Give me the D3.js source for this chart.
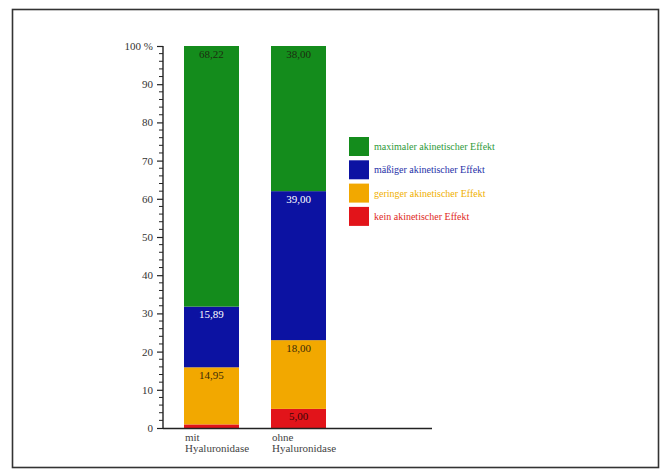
<!DOCTYPE html>
<html>
<head>
<meta charset="utf-8">
<script src="https://cdn.jsdelivr.net/npm/d3@7/dist/d3.min.js"></script>
<style>
  html, body { margin: 0; padding: 0; background: #fff; }
  svg { display: block; }
  svg text { font-family: "Liberation Serif", "Times New Roman", "DejaVu Serif", serif; }
</style>
</head>
<body>
<svg id="chart" width="665" height="471"></svg>
<script>
// Groups on the x axis (two lines each)
const groups = ["mit\nHyaluronidase", "ohne\nHyaluronidase"];
// Stack order from bottom to top
const effects = ["kein", "gering", "mäßig", "maximal"];
const legendLabels = [
  "maximaler akinetischer Effekt",
  "mäßiger akinetischer Effekt",
  "geringer akinetischer Effekt",
  "kein akinetischer Effekt"
];
// Percentages per group, in the stack order above
const keinValues    = [0.94, 5.00];
const geringValues  = [14.95, 18.00];
const maessigValues = [15.89, 39.00];
const maximalValues = [68.22, 38.00];
// Which segments carry a printed value
const showLabel = [[false, true, true, true], [true, true, true, true]];
const yTicks = [0, 10, 20, 30, 40, 50, 60, 70, 80, 90, 100];

const colors = { kein: "#e2141a", gering: "#f2a800", "mäßig": "#0c12a2", maximal: "#148c1c" };
const labelColors = { kein: "#3a0606", gering: "#3a2a08", "mäßig": "#ffffff", maximal: "#1c2c10" };
const legendTextColors = ["#2f9a3a", "#2630a8", "#f0b000", "#e0281c"];
const legendKeys = ["maximal", "mäßig", "gering", "kein"];

const svg = d3.select("#chart");
const serif = "\"Liberation Serif\", \"Times New Roman\", \"DejaVu Serif\", serif";

// Outer frame
svg.append("rect")
  .attr("x", 12.5).attr("y", 9.5)
  .attr("width", 646).attr("height", 458)
  .attr("fill", "none").attr("stroke", "#333").attr("stroke-width", 1.6);

const y = d3.scaleLinear().domain([0, 100]).range([428, 46]);
const x = d3.scaleBand().domain(groups).range([163, 347]).paddingInner(0.368).paddingOuter(0.2414);

// Stacked data
const rows = groups.map((g, i) => ({
  group: g,
  kein: keinValues[i], gering: geringValues[i], "mäßig": maessigValues[i], maximal: maximalValues[i]
}));
const stack = d3.stack().keys(effects)(rows);

const fmt = v => d3.format(".2f")(v).replace(".", ",");

stack.forEach((layer, li) => {
  const key = layer.key;
  const g = svg.append("g");
  g.selectAll("rect").data(layer).join("rect")
    .attr("x", d => x(d.data.group))
    .attr("y", d => y(d[1]))
    .attr("width", x.bandwidth())
    .attr("height", d => y(d[0]) - y(d[1]))
    .attr("fill", colors[key]);
  g.selectAll("text").data(layer.filter((d, gi) => showLabel[gi][li])).join("text")
    .attr("x", d => x(d.data.group) + x.bandwidth() / 2)
    .attr("y", d => y(d[1]) + 11.5)
    .attr("text-anchor", "middle")
    .style("font-family", serif).attr("font-size", 11)
    .attr("fill", labelColors[key])
    .text(d => fmt(d[1] - d[0]));
});

// Y axis
const axisG = svg.append("g").attr("transform", "translate(163,0)");
axisG.call(d3.axisLeft(y).tickValues(yTicks).tickSize(6).tickFormat(d => d === 100 ? "100 %" : d))
  .attr("font-family", null)
  .call(g => g.select(".domain").attr("stroke", "#222").attr("stroke-width", 1.4).attr("d", `M0,${y(0)}V${y(100)}`))
  .call(g => g.selectAll(".tick line").attr("stroke", "#222").attr("stroke-width", 1.2))
  .call(g => g.selectAll(".tick text").style("font-family", serif).attr("font-size", 11).attr("fill", "#333").attr("x", -10));
// Minor ticks every 2 %
axisG.selectAll("line.minor").data(d3.range(0, 100, 2).filter(v => v % 10 !== 0)).join("line")
  .attr("class", "minor")
  .attr("x1", -4).attr("x2", 0)
  .attr("y1", d => y(d)).attr("y2", d => y(d))
  .attr("stroke", "#222").attr("stroke-width", 1);

// Baseline
svg.append("line")
  .attr("x1", 163).attr("x2", 432)
  .attr("y1", y(0) + 0.5).attr("y2", y(0) + 0.5)
  .attr("stroke", "#222").attr("stroke-width", 1.6);

// Group labels
groups.forEach(gname => {
  const t = svg.append("text")
    .style("font-family", serif).attr("font-size", 11).attr("fill", "#444");
  gname.split("\n").forEach((line, i) => {
    t.append("tspan").attr("x", x(gname) + 1).attr("y", 441 + i * 11).text(line);
  });
});

// Legend
const legend = svg.append("g").attr("transform", "translate(349,137)");
legendKeys.forEach((k, i) => {
  legend.append("rect")
    .attr("x", 0).attr("y", i * 23.3)
    .attr("width", 20).attr("height", 19)
    .attr("fill", colors[k]);
  legend.append("text")
    .attr("x", 25).attr("y", i * 23.3 + 13)
    .style("font-family", serif).attr("font-size", 10)
    .attr("fill", legendTextColors[i])
    .text(legendLabels[i]);
});
</script>
</body>
</html>
